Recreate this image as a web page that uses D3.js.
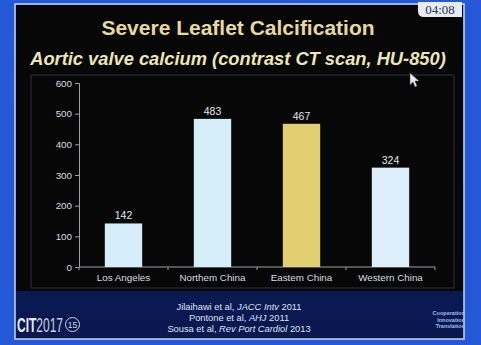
<!DOCTYPE html>
<meta charset="utf-8">
<script src="https://d3js.org/d3.v7.min.js"></script>
<style>
body { margin: 0; background: #2458d8; }
text { font-family: "Liberation Sans", Arial, sans-serif; }
</style>
<body>
<script>
// chart data
var regions = ["Los Angeles", "Northern China", "Eastern China", "Western China"];
var calcium = [142, 483, 467, 324];
var barColors = ["#d6eefa", "#d6eefa", "#e2cf72", "#dbeefa"];
var yTicks = [0, 100, 200, 300, 400, 500, 600];
var refs = [
  ["Jilaihawi et al, ", "JACC Intv", " 2011"],
  ["Pontone et al, ", "AHJ", " 2011"],
  ["Sousa et al, ", "Rev Port Cardiol", " 2013"]
];
var motto = ["Cooperation", "Innovation", "Translation"];

var width = 481, height = 345;

var svg = d3.select("body").append("svg")
    .attr("width", width)
    .attr("height", height);

var defs = svg.append("defs");
var g1 = defs.append("linearGradient").attr("id", "band").attr("x1", 0).attr("x2", 0).attr("y1", 0).attr("y2", 1);
g1.append("stop").attr("offset", "0%").attr("stop-color", "#16348f");
g1.append("stop").attr("offset", "25%").attr("stop-color", "#0d1d5c");
g1.append("stop").attr("offset", "100%").attr("stop-color", "#0a1850");

// outer screen + slide
svg.append("rect").attr("width", width).attr("height", height).attr("fill", "#2558d6");
svg.append("rect").attr("x", 15).attr("y", 4).attr("width", 449).attr("height", 335)
    .attr("fill", "url(#band)").attr("stroke", "#c8d6f0").attr("stroke-width", 1.5);
svg.append("rect").attr("x", 16).attr("y", 5).attr("width", 447).attr("height", 286).attr("fill", "#070708");

// timer
svg.append("path").attr("d", "M418,2 H462 V17 H424 Q418,17 418,11 Z").attr("fill", "#e6ecf2");
svg.append("text").attr("x", 440).attr("y", 14).attr("text-anchor", "middle")
    .style("font-family", "'Liberation Serif', serif").attr("font-size", 13).attr("fill", "#2a3550").text("04:08");

// titles
svg.append("text").attr("x", 238).attr("y", 35).attr("text-anchor", "middle")
    .attr("font-size", 21).attr("font-weight", "bold").attr("fill", "#e6d99c")
    .text("Severe Leaflet Calcification");
svg.append("text").attr("x", 238).attr("y", 65).attr("text-anchor", "middle")
    .attr("font-size", 18.3).attr("font-weight", "bold").attr("font-style", "italic").attr("fill", "#ece6b6")
    .text("Aortic valve calcium (contrast CT scan, HU-850)");

// chart frame
svg.append("rect").attr("x", 31).attr("y", 75).attr("width", 423).attr("height", 213)
    .attr("fill", "none").attr("stroke", "#2c3344").attr("stroke-width", 1);

var plotLeft = 79, plotRight = 435, plotTop = 83, plotBottom = 267;

var x = d3.scaleBand().domain(regions).range([plotLeft, plotRight]).paddingInner(0.58).paddingOuter(0.29);
var y = d3.scaleLinear().domain([0, 600]).range([plotBottom, plotTop]);

var yAxis = svg.append("g").attr("transform", "translate(" + plotLeft + ",0)")
    .call(d3.axisLeft(y).tickValues(yTicks).tickSize(4).tickPadding(3));
yAxis.selectAll("path, line").attr("stroke", "#9aa0a8");
yAxis.selectAll("text").attr("fill", "#d8dce2").attr("font-size", 9.8)
    .style("font-family", "'Liberation Sans', Arial, sans-serif");

// x axis line and ticks at category boundaries
svg.append("line").attr("x1", plotLeft).attr("x2", plotRight).attr("y1", plotBottom).attr("y2", plotBottom).attr("stroke", "#9aa0a8");
var step = x.step();
svg.selectAll(".xtick").data(d3.range(regions.length + 1)).enter().append("line")
    .attr("x1", function(i) { return plotLeft + i * step; })
    .attr("x2", function(i) { return plotLeft + i * step; })
    .attr("y1", plotBottom).attr("y2", plotBottom + 3).attr("stroke", "#9aa0a8");

svg.selectAll(".xlab").data(regions).enter().append("text")
    .attr("x", function(d) { return x(d) + x.bandwidth() / 2; })
    .attr("y", plotBottom + 14)
    .attr("text-anchor", "middle").attr("font-size", 9.8).attr("fill", "#d8dde4")
    .text(function(d) { return d === "Northern China" ? "Northem China" : d === "Eastern China" ? "Eastem China" : d; });

// bars
svg.selectAll(".bar").data(calcium).enter().append("rect")
    .attr("x", function(d, i) { return x(regions[i]); })
    .attr("y", function(d) { return y(d); })
    .attr("width", x.bandwidth())
    .attr("height", function(d) { return plotBottom - y(d); })
    .attr("fill", function(d, i) { return barColors[i]; });

svg.selectAll(".val").data(calcium).enter().append("text")
    .attr("x", function(d, i) { return x(regions[i]) + x.bandwidth() / 2; })
    .attr("y", function(d) { return y(d) - 4; })
    .attr("text-anchor", "middle").attr("font-size", 10.5).attr("fill", "#e4e8ee")
    .text(function(d) { return d; });

// mouse pointer
svg.append("path").attr("d", "M410,73 L410,85 L413,82 L415,87 L417,86 L415,81 L419,81 Z")
    .attr("fill", "#e8e8ee").attr("stroke", "#444").attr("stroke-width", 0.5);

// references
var refText = svg.append("g").attr("fill", "#dfe4f2").attr("font-size", 9.3);
refs.forEach(function(r, i) {
  var t = refText.append("text").attr("x", 239).attr("y", 310 + i * 11).attr("text-anchor", "middle");
  t.append("tspan").text(r[0]);
  t.append("tspan").attr("font-style", "italic").text(r[1]);
  t.append("tspan").text(r[2]);
});

// logo (condensed via horizontal scale)
var logo = svg.append("g");
var lt = logo.append("text").attr("transform", "translate(17,332) scale(0.6,1)").attr("font-size", 20);
lt.append("tspan").attr("font-weight", "bold").attr("fill", "#e8ecf4").text("CIT");
lt.append("tspan").attr("fill", "#c9d0dc").text("2017");
logo.append("circle").attr("cx", 72.5).attr("cy", 324.5).attr("r", 7).attr("fill", "none").attr("stroke", "#d0d6e4").attr("stroke-width", 1);
logo.append("text").attr("x", 72.5).attr("y", 327.5).attr("text-anchor", "middle").attr("font-size", 8.5)
    .attr("fill", "#d0d6e4").text("15");

svg.selectAll(".motto").data(motto).enter().append("text")
    .attr("x", 465).attr("y", function(d, i) { return 315 + i * 6.5; })
    .attr("text-anchor", "end").attr("font-size", 5.5).attr("font-weight", "bold").attr("fill", "#9fc0f0")
    .text(function(d) { return d; });
</script>
</body>
